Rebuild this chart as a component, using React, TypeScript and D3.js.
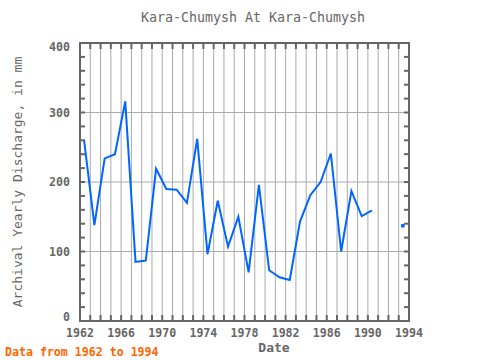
import React from "react";
import * as d3 from "d3";

const years = [1962,1963,1964,1965,1966,1967,1968,1969,1970,1971,1972,1973,1974,1975,1976,1977,1978,1979,1980,1981,1982,1983,1984,1985,1986,1987,1988,1989,1990,1993];
const discharge = [260,138,234,240,316,85,87,219,190,189,170,262,96,173,107,150,70,196,73,63,59,143,181,200,241,100,187,151,159,137];
const dateOffset = 0.4;
const xTicks = [1962,1966,1970,1974,1978,1982,1986,1990,1994];
const yTicks = [0,100,200,300,400];

const W = 480, H = 360;
const L = 80, R = 409, T = 43, B = 321;
const gray = "#666";
const mono = "'DejaVu Sans Mono', monospace";

export default function App() {
  const x = d3.scaleLinear().domain([1962, 1994]).range([L, R]);
  const y = d3.scaleLinear().domain([0, 400]).range([B, T]);
  const pts = years.map((yr, i) => ({ t: yr + dateOffset, v: discharge[i], yr }));
  const segs: typeof pts[] = [];
  pts.forEach((p, i) => {
    if (i === 0 || p.yr - pts[i - 1].yr > 1) segs.push([p]);
    else segs[segs.length - 1].push(p);
  });
  const line = d3.line<{ t: number; v: number }>().x(d => x(d.t)).y(d => y(d.v));
  const yearGrid = d3.range(1963, 1994);
  const minor = d3.range(20, 400, 20);
  const yLabelY = (t: number) => {
    const c = Math.min(Math.max(y(t), T + 4), B - 4);
    return c + 4;
  };
  return (
    <svg width={W} height={H} style={{ position: "absolute", left: 0, top: 0 }}>
      <rect width={W} height={H} fill="#fff" />
      <text x={253} y={22} textAnchor="middle" fontFamily={mono} fontSize={13.3} fill={gray}>Kara-Chumysh At Kara-Chumysh</text>
      {yearGrid.map(g => (
        <line key={"vg" + g} x1={x(g)} x2={x(g)} y1={T} y2={B} stroke="#aaa" strokeWidth={1} />
      ))}
      {[100, 200, 300].map(v => (
        <line key={"hg" + v} x1={L} x2={R} y1={y(v)} y2={y(v)} stroke="#aaa" strokeWidth={1} />
      ))}
      {yearGrid.map(g => (
        <g key={"tk" + g}>
          <line x1={x(g)} x2={x(g)} y1={T} y2={T + 6} stroke={gray} strokeWidth={2} />
          <line x1={x(g)} x2={x(g)} y1={B} y2={B - 6} stroke={gray} strokeWidth={2} />
        </g>
      ))}
      {minor.map(v => (
        <g key={"my" + v}>
          <line x1={L} x2={L + 5} y1={y(v)} y2={y(v)} stroke={gray} strokeWidth={2} />
          <line x1={R} x2={R - 5} y1={y(v)} y2={y(v)} stroke={gray} strokeWidth={2} />
        </g>
      ))}
      {segs.map((s, i) =>
        s.length > 1 ? (
          <path key={"s" + i} d={line(s) || ""} fill="none" stroke="#0066ff" strokeWidth={2} />
        ) : (
          <circle key={"s" + i} cx={x(s[0].t)} cy={y(s[0].v)} r={2} fill="#0066ff" />
        )
      )}
      <rect x={L} y={T} width={R - L} height={B - T} fill="none" stroke={gray} strokeWidth={2} />
      {xTicks.map(t => (
        <text key={"xl" + t} x={x(t)} y={337} textAnchor="middle" fontFamily={mono} fontWeight="bold" fontSize={11.6} fill={gray}>{t}</text>
      ))}
      {yTicks.map(t => (
        <text key={"yl" + t} x={70} y={yLabelY(t)} textAnchor="end" fontFamily={mono} fontWeight="bold" fontSize={11.6} fill={gray}>{t}</text>
      ))}
      <text x={274} y={352} textAnchor="middle" fontFamily={mono} fontWeight="bold" fontSize={13} fill={gray}>Date</text>
      <text transform={`translate(22,${(T + B) / 2}) rotate(-90)`} textAnchor="middle" fontFamily={mono} fontSize={13} fill={gray}>Archival Yearly Discharge, in mm</text>
      <text x={5} y={356} fontFamily={mono} fontWeight="bold" fontSize={11.6} fill="#ff6600">Data from 1962 to 1994</text>
    </svg>
  );
}
